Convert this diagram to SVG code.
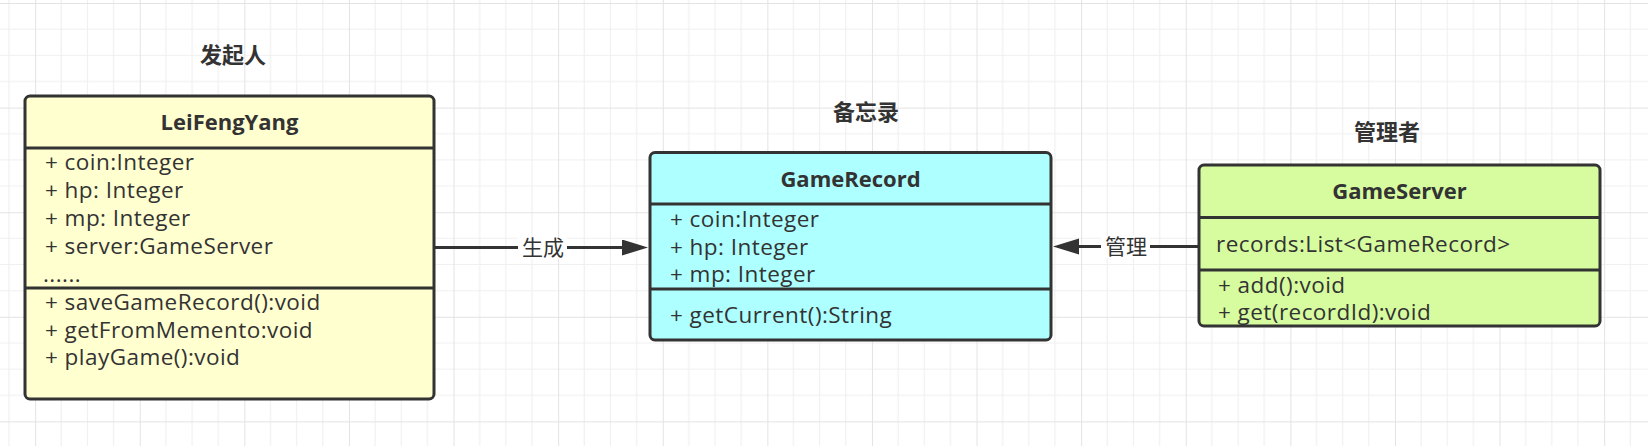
<svg xmlns="http://www.w3.org/2000/svg" width="1648" height="446" viewBox="0 0 1648 446">
<style>
  .box { stroke: #333333; stroke-width: 3; }
  .div { stroke: #333333; stroke-width: 3; fill: none; }
  .title { font-family: "Open Sans", "Noto Sans", sans-serif; font-weight: bold; font-size: 22px; fill: #333333; text-anchor: middle; }
  .txt { font-family: "Open Sans", "Noto Sans", sans-serif; font-size: 22.5px; letter-spacing: 0.45px; fill: #333333; }
  .cjk { font-family: "Noto Sans CJK SC", sans-serif; font-weight: bold; font-size: 22px; fill: #333333; text-anchor: middle; }
  .lbl { font-family: "Noto Sans CJK SC", sans-serif; font-size: 21px; fill: #333333; text-anchor: middle; }
  .conn { stroke: #333333; stroke-width: 3; fill: none; }
</style>
<defs>
  <pattern id="grid" patternUnits="userSpaceOnUse" x="35.15" y="3" width="104.6" height="104.6">
    <path d="M26.15 0V104.6M52.3 0V104.6M78.45 0V104.6M0 26.15H104.6M0 52.3H104.6M0 78.45H104.6" stroke="#f0f0f0" stroke-width="1.2" fill="none"/>
    <path d="M0 0V104.6M0 0H104.6" stroke="#e3e3e3" stroke-width="2" fill="none"/>
  </pattern>
  <marker id="arrow" markerUnits="userSpaceOnUse" markerWidth="27" markerHeight="17" refX="8" refY="8" orient="auto">
    <path d="M0 0L26 8L0 16Z" fill="#333333"/>
  </marker>
</defs>
<rect width="1648" height="446" fill="#ffffff"/>
<rect width="1648" height="446" fill="url(#grid)"/>

<g id="connectors">
  <g id="edge-generate">
    <path class="conn" d="M434 247.5H630" marker-end="url(#arrow)"/>
    <rect x="518" y="237" width="49" height="22" fill="#ffffff"/>
    <text class="lbl" x="543" y="255">生成</text>
  </g>
  <g id="edge-manage">
    <path class="conn" d="M1199 246.5H1071" marker-end="url(#arrow)"/>
    <rect x="1101" y="236" width="49" height="22" fill="#ffffff"/>
    <text class="lbl" x="1126" y="254">管理</text>
  </g>
</g>

<g id="originator">
  <text class="cjk" x="233" y="63">发起人</text>
  <rect class="box" x="25" y="96" width="409" height="303" rx="5" fill="#ffffd0"/>
  <path class="div" d="M25 148H434M25 288H434"/>
  <text class="title" x="229.5" y="130">LeiFengYang</text>
  <text class="txt" x="45" y="170">+ coin:Integer</text>
  <text class="txt" x="45" y="198">+ hp: Integer</text>
  <text class="txt" x="45" y="226">+ mp: Integer</text>
  <text class="txt" x="45" y="254">+ server:GameServer</text>
  <text class="txt" x="43" y="282">......</text>
  <text class="txt" x="45" y="310">+ saveGameRecord():void</text>
  <text class="txt" x="45" y="337.5">+ getFromMemento:void</text>
  <text class="txt" x="45" y="365">+ playGame():void</text>
</g>

<g id="memento">
  <text class="cjk" x="866" y="120">备忘录</text>
  <rect class="box" x="650" y="152.5" width="401" height="187.5" rx="5" fill="#aeffff"/>
  <path class="div" d="M650 204H1051M650 289H1051"/>
  <text class="title" x="850.5" y="187">GameRecord</text>
  <text class="txt" x="670" y="227">+ coin:Integer</text>
  <text class="txt" x="670" y="254.5">+ hp: Integer</text>
  <text class="txt" x="670" y="282">+ mp: Integer</text>
  <text class="txt" x="670" y="323">+ getCurrent():String</text>
</g>

<g id="caretaker">
  <text class="cjk" x="1387" y="140">管理者</text>
  <rect class="box" x="1199" y="165" width="401" height="161" rx="5" fill="#d6fc9f"/>
  <path class="div" d="M1199 217.5H1600M1199 270H1600"/>
  <text class="title" x="1399.5" y="199">GameServer</text>
  <text class="txt" x="1216" y="252">records:List&lt;GameRecord&gt;</text>
  <text class="txt" x="1218" y="293">+ add():void</text>
  <text class="txt" x="1218" y="320">+ get(recordId):void</text>
</g>
</svg>
